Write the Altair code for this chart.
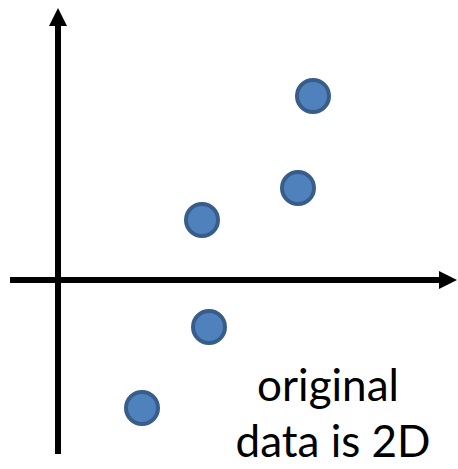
import altair as alt
import pandas as pd

# Data points (in axis units, origin at the axes crossing)
pt_x = [6.375, 6.0, 3.6, 3.775, 2.1]
pt_y = [4.6, 2.3, 1.5, -1.175, -3.2]

# Axis extents
x_axis_start, x_axis_end, x_head = -1.2, 9.55, 9.75
y_axis_start, y_axis_end, y_head = -4.35, 6.35, 6.575

# Label lines
label_lines = ["original", "data is 2D"]
label_x = [6.75, 6.875]
label_y = [-3.025, -4.425]

xs = alt.Scale(domain=[-1.45, 10.0], nice=False, zero=False)
ys = alt.Scale(domain=[-4.725, 7.0], nice=False, zero=False)

pts = pd.DataFrame({"x": pt_x, "y": pt_y})
hx = pd.DataFrame({"x": [x_axis_start], "x2": [x_axis_end], "y": [0.0]})
vy = pd.DataFrame({"y": [y_axis_start], "y2": [y_axis_end], "x": [0.0]})
heads_r = pd.DataFrame({"x": [x_head], "y": [0.0]})
heads_u = pd.DataFrame({"x": [0.0], "y": [y_head]})
labels = pd.DataFrame({"t": label_lines, "x": label_x, "y": label_y})

xaxis = alt.Chart(hx).mark_rule(color="black", strokeWidth=6).encode(
    x=alt.X("x:Q", scale=xs, axis=None), x2="x2:Q",
    y=alt.Y("y:Q", scale=ys, axis=None))
yaxis = alt.Chart(vy).mark_rule(color="black", strokeWidth=6).encode(
    y=alt.Y("y:Q", scale=ys, axis=None), y2="y2:Q",
    x=alt.X("x:Q", scale=xs, axis=None))
head_r = alt.Chart(heads_r).mark_point(
    shape="M -1,-1 L 1,0 L -1,1 Z", filled=True, fill="black",
    strokeWidth=0, size=324, opacity=1).encode(
    x=alt.X("x:Q", scale=xs, axis=None), y=alt.Y("y:Q", scale=ys, axis=None))
head_u = alt.Chart(heads_u).mark_point(
    shape="M -1,1 L 0,-1 L 1,1 Z", filled=True, fill="black",
    strokeWidth=0, size=324, opacity=1).encode(
    x=alt.X("x:Q", scale=xs, axis=None), y=alt.Y("y:Q", scale=ys, axis=None))
dots = alt.Chart(pts).mark_point(
    shape="circle", filled=True, fill="#4F81BD", stroke="#385D8A",
    strokeWidth=4, size=1024, opacity=1).encode(
    x=alt.X("x:Q", scale=xs, axis=None), y=alt.Y("y:Q", scale=ys, axis=None))
text = alt.Chart(labels).mark_text(
    font="Lato", fontSize=44, align="center", baseline="alphabetic",
    color="black").encode(
    x=alt.X("x:Q", scale=xs, axis=None), y=alt.Y("y:Q", scale=ys, axis=None),
    text="t:N")

chart = alt.layer(xaxis, yaxis, head_r, head_u, dots, text).properties(
    width=458, height=469, padding=0, autosize=alt.AutoSizeParams(type="none")
).configure_view(stroke=None)

chart.save("out.html", embed_options={"renderer": "svg", "actions": False})
